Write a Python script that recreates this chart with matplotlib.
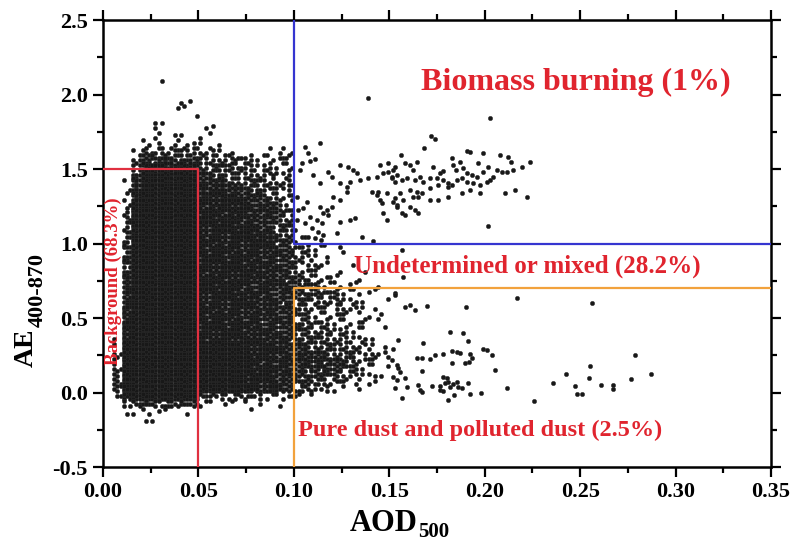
import numpy as np
import matplotlib
matplotlib.use('Agg')
import matplotlib.pyplot as plt

plt.rcParams['font.family'] = ['Liberation Serif', 'DejaVu Serif']
plt.rcParams['font.weight'] = 'bold'
plt.rcParams['axes.unicode_minus'] = False

# dense part read off the picture as dot counts per cell
# cells are 0.005 wide (x from 0 to 0.15) and 0.05 tall, rows listed top first
cell_dx = 0.005
cell_dy = 0.05
row_bottom = [2.10, 2.05, 2.00, 1.95, 1.90, 1.85, 1.80, 1.75, 1.70, 1.65,
              1.60, 1.55, 1.50, 1.45, 1.40, 1.35, 1.30, 1.25, 1.20, 1.15,
              1.10, 1.05, 1.00, 0.95, 0.90, 0.85, 0.80, 0.75, 0.70, 0.65,
              0.60, 0.55, 0.50, 0.45, 0.40, 0.35, 0.30, 0.25, 0.20, 0.15,
              0.10, 0.05, 0.00, -0.05, -0.10, -0.15, -0.20]
row_counts = [
    "00000 00000 00000 00000 00000 00000",
    "00000 01000 00000 00000 00000 00000",
    "00000 00000 00000 00000 00000 00000",
    "00000 00001 00000 00000 00000 00000",
    "00000 00120 00000 00000 00000 00000",
    "00000 00001 00000 00000 00000 00000",
    "00000 11000 00000 00000 00000 00000",
    "00000 10000 11000 00000 00000 00000",
    "00000 20110 11000 00000 00000 00000",
    "00002 10211 10100 00000 00000 00000",
    "00013 33333 22110 00121 00000 00000",
    "00035 55555 33333 22222 00000 00000",
    "00038 88888 44444 22222 00000 00000",
    "00059 99999 55533 33322 00000 00000",
    "00169 99999 66644 44222 00000 00000",
    "00179 99999 77775 55333 00000 00000",
    "00189 99999 88886 66332 00000 00000",
    "00299 99999 88888 66632 00000 00000",
    "00299 99999 88888 66643 00000 00000",
    "00399 99999 88888 86643 00000 00000",
    "00399 99999 88888 86644 00000 00000",
    "00399 99999 88888 88644 00000 00000",
    "00499 99999 88888 88754 21100 00000",
    "00499 99999 88888 88764 32211 00000",
    "00599 99999 88888 88765 32110 10000",
    "00599 99999 88888 87765 32210 01000",
    "00599 99999 88888 87765 32201 00100",
    "00699 99999 88888 77765 43221 01000",
    "00699 99999 88888 77766 43322 11010",
    "00699 99999 88888 77766 54433 22110",
    "00799 99999 88888 77766 44333 21101",
    "00799 99999 88888 77766 43323 22110",
    "00799 99999 88888 77766 43222 21101",
    "00899 99999 88888 77766 43322 21210",
    "00899 99999 88888 77766 54332 22101",
    "01899 99999 88888 77776 54433 22110",
    "01999 99999 99999 88876 55443 32211",
    "02999 99999 99999 88876 66554 43221",
    "02999 99999 99999 88877 66655 43221",
    "03999 99999 99999 88877 66665 43211",
    "03999 99999 99999 88876 65554 32211",
    "04999 99999 99999 88875 54433 22110",
    "04999 99999 99999 88875 43221 11000",
    "02899 99999 33333 32222 21000 00000",
    "00344 44444 21111 01010 00000 00000",
    "00112 11010 00000 10000 00000 00000",
    "00001 10000 00000 00000 00000 00000",
]

# single dots (sparse parts)
sparse_x = [
    0.2028, 0.172, 0.174, 0.168, 0.156, 0.1905, 0.1923, 0.199, 0.208, 0.2124,
    0.2237, 0.2193, 0.214, 0.215, 0.2115, 0.1827, 0.187, 0.1835, 0.1966, 0.2018,
    0.2063, 0.2089, 0.173, 0.178, 0.1766, 0.185, 0.1888, 0.1905, 0.1931, 0.1958,
    0.1993, 0.2028, 0.201, 0.2045, 0.1644, 0.1609, 0.1582, 0.1626, 0.1521, 0.1539,
    0.1513, 0.1565, 0.153, 0.1591, 0.1635, 0.166, 0.1678, 0.1713, 0.1748, 0.1783,
    0.1809, 0.1827, 0.1853, 0.1879, 0.1905, 0.194, 0.1975, 0.1713, 0.1757, 0.1809,
    0.1609, 0.1644, 0.167, 0.1626, 0.1652, 0.1556, 0.153, 0.1573, 0.1539, 0.1713,
    0.1757, 0.1809, 0.1879, 0.1923, 0.1975, 0.2106, 0.2159, 0.222, 0.1609, 0.1635,
    0.1652, 0.1582, 0.1565, 0.2019,
    0.1451, 0.1495, 0.153, 0.1469, 0.1512, 0.1442, 0.1486, 0.1521, 0.146, 0.1539,
    0.1137, 0.1058, 0.1076, 0.1111, 0.1085, 0.1041, 0.1032, 0.1242, 0.1285, 0.1311,
    0.1329, 0.118, 0.1198, 0.1102, 0.1137, 0.1242, 0.1277, 0.1294, 0.1346, 0.139,
    0.1207, 0.1242, 0.1277, 0.1198, 0.1172, 0.118, 0.1137, 0.1154, 0.1119, 0.1146,
    0.1242, 0.1294, 0.132, 0.1224, 0.1355, 0.1416, 0.1067, 0.1049, 0.1085, 0.1058,
    0.1093, 0.1128, 0.1154, 0.1076, 0.1111, 0.1015, 0.1023, 0.1015, 0.1006, 0.1407,
    0.1433, 0.1451, 0.1469, 0.1486, 0.1495, 0.1433, 0.139,
    0.1565, 0.1574, 0.153,
    0.153, 0.1582, 0.1609, 0.1635, 0.1696, 0.1902, 0.2168, 0.256, 0.1818, 0.1888,
    0.1914, 0.1547, 0.1678, 0.1518, 0.1513, 0.1644, 0.167, 0.1713, 0.174, 0.1783,
    0.1827, 0.1853, 0.187, 0.1923, 0.1931, 0.1919, 0.1827, 0.1897, 0.1989, 0.201,
    0.2036, 0.2054, 0.1539, 0.1547, 0.1556, 0.167, 0.1521, 0.1539, 0.1582, 0.1591,
    0.153, 0.1565, 0.1652, 0.1661, 0.167, 0.1722, 0.1766, 0.1783, 0.18, 0.1809,
    0.1792, 0.1818, 0.1835, 0.1862, 0.1879, 0.1853, 0.1766, 0.1783, 0.1809, 0.1839,
    0.1914, 0.1923, 0.1979, 0.2115, 0.2258, 0.2356, 0.2426, 0.2473, 0.2482, 0.2508,
    0.2552, 0.2548, 0.2609, 0.2674, 0.2671, 0.2766, 0.2788, 0.2871,
]
sparse_y = [
    1.84, 1.72, 1.70, 1.64, 1.594, 1.62, 1.616, 1.605, 1.594, 1.583,
    1.55, 1.515, 1.55, 1.493, 1.482, 1.572, 1.55, 1.527, 1.538, 1.515,
    1.493, 1.482, 1.515, 1.489, 1.471, 1.493, 1.504, 1.471, 1.46, 1.448,
    1.482, 1.426, 1.415, 1.448, 1.549, 1.527, 1.538, 1.493, 1.493, 1.46,
    1.438, 1.426, 1.415, 1.438, 1.426, 1.448, 1.415, 1.438, 1.438, 1.426,
    1.404, 1.393, 1.426, 1.438, 1.415, 1.404, 1.393, 1.37, 1.393, 1.381,
    1.359, 1.348, 1.337, 1.314, 1.314, 1.337, 1.303, 1.292, 1.258, 1.292,
    1.292, 1.314, 1.337, 1.359, 1.337, 1.337, 1.359, 1.31, 1.247, 1.225,
    1.203, 1.191, 1.203, 1.117,
    1.527, 1.538, 1.515, 1.471, 1.448, 1.348, 1.337, 1.281, 1.27, 1.247,
    1.672, 1.65, 1.605, 1.565, 1.556, 1.538, 1.493, 1.527, 1.515, 1.493,
    1.471, 1.482, 1.448, 1.46, 1.404, 1.404, 1.381, 1.415, 1.426, 1.438,
    1.314, 1.292, 1.348, 1.247, 1.225, 1.191, 1.247, 1.203, 1.158, 1.136,
    1.147, 1.158, 1.169, 1.069, 1.046, 1.019, 1.281, 1.236, 1.18, 1.136,
    1.102, 1.08, 1.057, 1.046, 1.035, 1.314, 1.225, 1.158, 1.091, 1.348,
    1.325, 1.292, 1.203, 1.158, 1.482, 1.448, 1.98,
    0.956, 0.777, 0.666,
    0.654, 0.576, 0.587, 0.554, 0.581, 0.572, 0.632, 0.603, 0.408, 0.401,
    0.348, 0.352, 0.334, 0.29, 0.218, 0.229, 0.229, 0.223, 0.252, 0.258,
    0.279, 0.274, 0.267, 0.258, 0.229, 0.207, 0.2, 0.196, 0.29, 0.285,
    0.252, 0.151, 0.185, 0.162, 0.14, 0.146, 0.106, 0.084, 0.095, 0.039,
    0.028, -0.039, 0.05, 0.017, 0.005, 0.044, 0.044, 0.106, 0.095, 0.073,
    0.062, 0.039, 0.057, 0.039, 0.028, 0.073, 0.017, 0.012, -0.05, -0.017,
    0.066, -0.007, -0.003, 0.028, -0.055, 0.062, 0.122, 0.044, -0.012, -0.012,
    0.178, 0.095, 0.05, 0.05, 0.021, 0.091, 0.252, 0.124,
]

# where the dots of one cell sit inside it (3x3 spots, filled in this order)
spots = [(0.5, 0.5), (1/6, 5/6), (5/6, 1/6), (1/6, 1/6), (5/6, 5/6),
         (0.5, 1/6), (0.5, 5/6), (1/6, 0.5), (5/6, 0.5)]

dense_x = []
dense_y = []
for r, (yb, row) in enumerate(zip(row_bottom, row_counts)):
    digits = row.replace(' ', '')
    for c, ch in enumerate(digits):
        n = int(ch)
        start = (r * 4 + c * 7) % 9
        for k in range(n):
            fx, fy = spots[(start + k) % 9]
            dense_x.append((c + fx) * cell_dx)
            dense_y.append(yb + fy * cell_dy)

all_x = np.array(dense_x + sparse_x)
all_y = np.array(dense_y + sparse_y)

red = '#e0242e'
W, H = 793, 544
fig = plt.figure(figsize=(W / 100, H / 100), dpi=100)
ax = fig.add_axes([0.1299, 0.1415, 0.8424, 0.8217])

ax.scatter(all_x, all_y, s=10, facecolor='#181818', edgecolor='#303030',
           linewidths=0.3, zorder=2)

ax.plot([0, 0.05, 0.05], [1.5, 1.5, -0.5], color='#e03040', lw=1.6, zorder=3)
ax.plot([0.1, 0.1, 0.35], [2.5, 1.0, 1.0], color='#3535d0', lw=1.6, zorder=3)
ax.plot([0.1, 0.1, 0.35], [-0.5, 0.7, 0.7], color='#f2a23c', lw=1.6, zorder=3)

ax.text(0.2478, 2.084, 'Biomass burning (1%)', color=red, fontsize=23,
        fontweight='bold', ha='center', va='center')
ax.text(0.2224, 0.849, 'Undetermined or mixed (28.2%)', color=red, fontsize=18,
        fontweight='bold', ha='center', va='center')
ax.text(0.1975, -0.252, 'Pure dust and polluted dust (2.5%)', color=red,
        fontsize=17.5, fontweight='bold', ha='center', va='center')
ax.text(0.0052, 0.748, 'Background (68.3%)', color=red, fontsize=13.5,
        fontweight='bold', ha='center', va='center', rotation=90, zorder=4)

ax.set_xlim(0, 0.35)
ax.set_ylim(-0.5, 2.5)
xt = np.arange(0, 0.351, 0.05)
yt = np.arange(-0.5, 2.51, 0.5)
ax.set_xticks(xt)
ax.set_xticks(np.arange(0.025, 0.35, 0.05), minor=True)
ax.set_yticks(yt)
ax.set_yticks(np.arange(-0.25, 2.5, 0.5), minor=True)
ax.set_xticklabels(['%.2f' % v for v in xt])
ax.set_yticklabels(['%.1f' % v for v in yt])
ax.tick_params(which='both', direction='out', top=True, right=True, width=1.6)
ax.tick_params(which='major', length=7, labelsize=16, pad=4)
ax.tick_params(which='minor', length=4)
for lab in ax.get_xticklabels() + ax.get_yticklabels():
    lab.set_fontweight('bold')
for sp in ax.spines.values():
    sp.set_linewidth(1.8)

# axis titles with large subscripts, placed in pixel positions of the figure
fig.text(350 / W, 1 - 531 / H, 'AOD', fontsize=22, fontweight='bold',
         ha='left', va='baseline')
fig.text(418 / W, 1 - 537 / H, '500', fontsize=15, fontweight='bold',
         ha='left', va='baseline')
fig.text(33 / W, 1 - 367 / H, 'AE', fontsize=20, fontweight='bold',
         ha='left', va='baseline', rotation=90, rotation_mode='anchor')
fig.text(43 / W, 1 - 327 / H, '400-870', fontsize=16, fontweight='bold',
         ha='left', va='baseline', rotation=90, rotation_mode='anchor')

fig.savefig('out.png', dpi=100)
